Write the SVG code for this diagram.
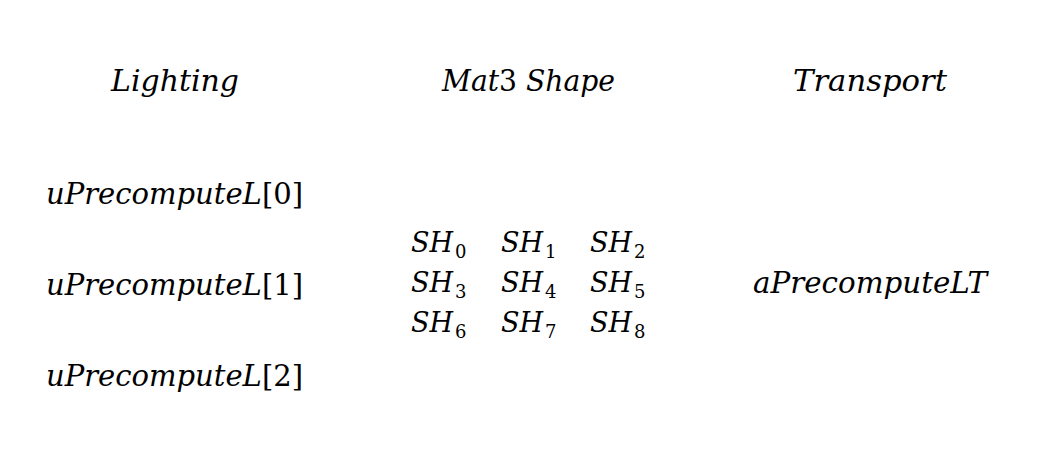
<svg xmlns="http://www.w3.org/2000/svg" width="1056" height="467" viewBox="0 0 1056 467">
<style>
text{font-family:"DejaVu Serif","Liberation Serif",serif;font-size:29px;fill:#000}
.i{font-style:italic}
.u{font-style:normal}
.sh{font-size:27px;font-style:italic}
.s{font-size:18px;font-style:normal}
</style>
<rect width="1056" height="467" fill="#fff"/>
<g id="lighting-title"><text class="i" x="111" y="91" textLength="128" lengthAdjust="spacingAndGlyphs">Lighting</text></g>
<g id="mat3-title"><text class="i" x="442" y="91" textLength="173" lengthAdjust="spacingAndGlyphs">Mat<tspan class="u">3</tspan> Shape</text></g>
<g id="transport-title"><text class="i" x="793" y="91" textLength="154" lengthAdjust="spacingAndGlyphs">Transport</text></g>
<g id="uPrecomputeL0"><text class="i" x="46" y="204" textLength="257" lengthAdjust="spacingAndGlyphs">uPrecomputeL<tspan class="u">[0]</tspan></text></g>
<g id="uPrecomputeL1"><text class="i" x="46" y="295" textLength="257" lengthAdjust="spacingAndGlyphs">uPrecomputeL<tspan class="u">[1]</tspan></text></g>
<g id="uPrecomputeL2"><text class="i" x="46" y="386" textLength="257" lengthAdjust="spacingAndGlyphs">uPrecomputeL<tspan class="u">[2]</tspan></text></g>
<g id="sh-matrix">
<text class="sh" x="411" y="252">SH<tspan class="s" dx="2" dy="6">0</tspan></text>
<text class="sh" x="501" y="252">SH<tspan class="s" dx="2" dy="6">1</tspan></text>
<text class="sh" x="590" y="252">SH<tspan class="s" dx="2" dy="6">2</tspan></text>
<text class="sh" x="411" y="292">SH<tspan class="s" dx="2" dy="6">3</tspan></text>
<text class="sh" x="501" y="292">SH<tspan class="s" dx="2" dy="6">4</tspan></text>
<text class="sh" x="590" y="292">SH<tspan class="s" dx="2" dy="6">5</tspan></text>
<text class="sh" x="411" y="332">SH<tspan class="s" dx="2" dy="6">6</tspan></text>
<text class="sh" x="501" y="332">SH<tspan class="s" dx="2" dy="6">7</tspan></text>
<text class="sh" x="590" y="332">SH<tspan class="s" dx="2" dy="6">8</tspan></text>
</g>
<g id="aPrecomputeLT"><text class="i" x="753" y="293" textLength="234" lengthAdjust="spacingAndGlyphs">aPrecomputeLT</text></g>
</svg>
